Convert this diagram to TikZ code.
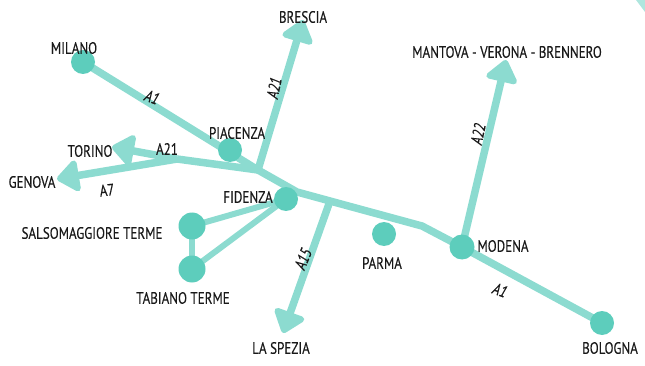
\documentclass[tikz,border=0pt]{standalone}
\usepackage{fontspec}
\setmainfont[FakeStretch=0.79,FakeBold=0.25]{PT Sans}
\usetikzlibrary{arrows.meta}
\definecolor{road}{HTML}{8CDBD0}
\definecolor{city}{HTML}{5DCDBC}
\tikzset{
  x=1pt,y=-1pt,
  roadline/.style={draw=road,line width=7.5pt,line join=round},
  thinroad/.style={draw=road,line width=6pt},
  arrowroad/.style={roadline,-{Triangle[length=24pt,width=36pt,round]}},
  citydot/.style={circle,fill=city,inner sep=0pt,minimum size=#1},
  citydot/.default=24pt,
  lab/.style={inner sep=0pt,text=black!90,font=\fontsize{16.5}{16.5}\selectfont},
  roadlab/.style={lab,font=\fontsize{16.5}{16.5}\selectfont\itshape},
}
\begin{document}
\begin{tikzpicture}
\useasboundingbox (0,0) rectangle (645,366);
\coordinate (jwest) at (177,159);
\coordinate (jnorth) at (258,170);
\coordinate (jeast) at (297,192);
\coordinate (jsouth) at (330,201);
\coordinate (bend) at (422,226);
\coordinate (bsTip) at (303,20);
\coordinate (toTip) at (112,147);
\coordinate (geTip) at (57,179);
\coordinate (laTip) at (283,333);
\coordinate (maTip) at (506,60);
\fill[road!70] (636,0) -- (645,12) -- (645,0) -- cycle;
\draw[roadline] (83,62) coordinate (mstart) -- (jnorth) -- (jeast) -- (jsouth) -- (bend) -- (462,247) coordinate (mod) -- (602,323) coordinate (bol);
\draw[roadline] (jnorth) -- (jwest);
\draw[arrowroad] (jwest) -- (toTip);
\draw[arrowroad] (jwest) -- (geTip);
\draw[arrowroad] (jnorth) -- (bsTip);
\draw[arrowroad] (jsouth) -- (laTip);
\draw[arrowroad] (mod) -- (maTip);
\coordinate (fid) at (286,199);
\coordinate (sal) at (192,226);
\coordinate (tab) at (192,269);
\draw[thinroad] (fid) -- (sal);
\draw[thinroad] (fid) -- (tab);
\draw[thinroad] (sal) -- (tab);
\node[citydot] (milano) at (mstart) {};
\node[citydot] (piacenza) at (230,150) {};
\node[citydot] (fidenza) at (fid) {};
\node[citydot=27pt] (salso) at (sal) {};
\node[citydot=27pt] (tabiano) at (tab) {};
\node[citydot] (parma) at (384,234) {};
\node[citydot=25pt] (modena) at (mod) {};
\node[citydot] (bologna) at (bol) {};
\node[lab] (lmilano) at (74,48) {MILANO};
\node[lab] (lbrescia) at (303,17) {BRESCIA};
\node[lab] (lpiacenza) at (237,133) {PIACENZA};
\node[lab] (ltorino) at (90,151) {TORINO};
\node[lab] (lgenova) at (32,182) {GENOVA};
\node[lab] (lfidenza) at (248,197) {FIDENZA};
\node[lab] (lsalso) at (92,233) {SALSOMAGGIORE TERME};
\node[lab] (ltabiano) at (183,298) {TABIANO TERME};
\node[lab] (lspezia) at (281,348) {LA SPEZIA};
\node[lab] (lparma) at (382,263) {PARMA};
\node[lab] (lmodena) at (503,246) {MODENA};
\node[lab] (lbologna) at (610,348) {BOLOGNA};
\node[lab] (lmantova) at (507,52) {MANTOVA - VERONA - BRENNERO};
\node[roadlab,rotate=-20] (a1n) at (152,97) {A1};
\node[lab] (a21w) at (167,149) {A21};
\node[roadlab,rotate=78] (a21n) at (274,88) {A21};
\node[lab,rotate=6] (a7) at (107,190) {A7};
\node[roadlab,rotate=68] (a15) at (303,259) {A15};
\node[roadlab,rotate=-20] (a1s) at (500,290) {A1};
\node[roadlab,rotate=78] (a22) at (478,134) {A22};
\end{tikzpicture}
\end{document}
